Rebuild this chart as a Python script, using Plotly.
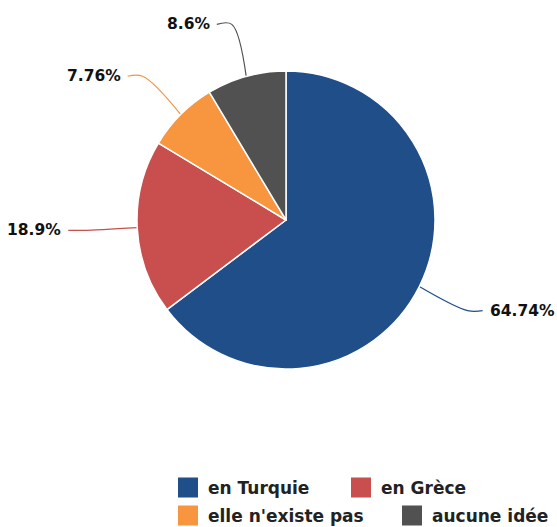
import math
import plotly.graph_objects as go

# ---- data ----
categories = ["en Turquie", "en Grèce", "elle n'existe pas", "aucune idée"]
values = [64.74, 18.9, 7.76, 8.6]
label_texts = ["64.74%", "18.9%", "7.76%", "8.6%"]
colors = ["#1f4e89", "#c84f4d", "#f7963f", "#515151"]

# ---- layout geometry (pixels) ----
W, H = 557, 527
CX, CY, R = 286, 220, 149
ELBOW_R = 203
HSEG = 15
TEXT_GAP = 5

fig = go.Figure()

fig.add_trace(go.Pie(
    labels=categories,
    values=values,
    sort=False,
    direction="clockwise",
    rotation=0,
    marker=dict(colors=colors, line=dict(color="white", width=1.5)),
    textinfo="none",
    hoverinfo="label+percent",
    showlegend=False,
    domain=dict(x=[(CX - R) / W, (CX + R) / W],
                y=[1 - (CY + R) / H, 1 - (CY - R) / H]),
))

# connectors and labels computed from the slice angles
total = sum(values)
cum = 0.0
annotations = []
for cat, v, txt, col in zip(categories, values, label_texts, colors):
    mid = (cum + v / 2) / total * 2 * math.pi
    cum += v
    s, c = math.sin(mid), math.cos(mid)
    side = 1 if s >= 0 else -1
    p0 = (CX + R * s, CY - R * c)
    p1 = (CX + ELBOW_R * s, CY - ELBOW_R * c)
    p2 = (p1[0] + side * HSEG, p1[1])
    fig.add_trace(go.Scatter(
        x=[p0[0], p1[0], p2[0]], y=[p0[1], p1[1], p2[1]],
        mode="lines", line=dict(color=col, width=1.2, shape="spline"),
        hoverinfo="skip", showlegend=False, xaxis="x", yaxis="y",
    ))
    annotations.append(dict(
        x=p2[0] + side * TEXT_GAP, y=p2[1], xref="x", yref="y",
        text="<b>" + txt + "</b>", showarrow=False,
        xanchor="left" if side > 0 else "right", yanchor="middle",
        font=dict(family="DejaVu Sans", size=15.5, color="#111111"),
    ))

# legend entries
for i, (cat, col) in enumerate(zip(categories, colors)):
    fig.add_trace(go.Scatter(
        x=[None], y=[None], mode="markers", name="<b>" + cat + "</b>",
        marker=dict(symbol="square", size=16, color=col, line=dict(width=4, color=col)),
        legend="legend" if i < 2 else "legend2",
        xaxis="x", yaxis="y",
    ))

legend_common = dict(
    orientation="h", xanchor="left", yanchor="middle",
    font=dict(family="DejaVu Sans", size=17, color="#222222"),
    bgcolor="rgba(0,0,0,0)", itemsizing="trace",
)

fig.update_layout(
    width=W, height=H,
    margin=dict(l=0, r=0, t=0, b=0, autoexpand=False),
    paper_bgcolor="white", plot_bgcolor="white",
    xaxis=dict(range=[0, W], visible=False, domain=[0, 1], fixedrange=True),
    yaxis=dict(range=[H, 0], visible=False, domain=[0, 1], fixedrange=True),
    annotations=annotations,
    legend=dict(x=168 / W, y=1 - 488 / H, entrywidth=128, **legend_common),
    legend2=dict(x=168 / W, y=1 - 516 / H, entrywidth=179, **legend_common),
)

fig.write_html(
    "out.html",
    config={"displayModeBar": False},
    post_script="document.body.style.margin='0';document.body.style.overflow='hidden';",
)
